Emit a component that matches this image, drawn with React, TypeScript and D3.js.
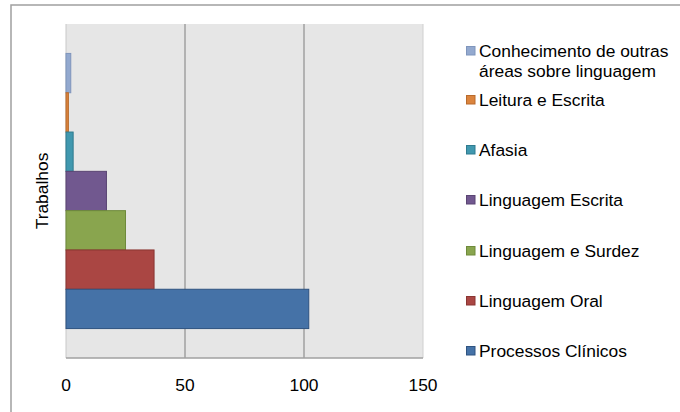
import React from "react";
import * as d3 from "d3";

const category = "Trabalhos";
const seriesNames = [
  "Conhecimento de outras áreas sobre linguagem",
  "Leitura e Escrita",
  "Afasia",
  "Linguagem Escrita",
  "Linguagem e Surdez",
  "Linguagem Oral",
  "Processos Clínicos",
];
const seriesValues = [2, 1, 3, 17, 25, 37, 102];
const seriesColors = ["#93A9CF", "#DB843D", "#4198AF", "#71588F", "#89A54E", "#AA4643", "#4572A7"];
const seriesStrokes = ["#7F95BC", "#B86A2C", "#2F7B8F", "#5A4573", "#6E8A3B", "#8A3532", "#2F5380"];
const legendLines = [
  ["Conhecimento de outras", "áreas sobre linguagem"],
  ["Leitura e Escrita"],
  ["Afasia"],
  ["Linguagem Escrita"],
  ["Linguagem e Surdez"],
  ["Linguagem Oral"],
  ["Processos Clínicos"],
];
const xTicks = [0, 50, 100, 150];

const W = 680;
const H = 412;
const plot = { left: 66, right: 423, top: 24, bottom: 358 };
const font = "'Liberation Sans', Arial, sans-serif";
const fs = 17.4;

export default function App() {
  const x = d3.scaleLinear().domain([0, 150]).range([plot.left, plot.right]);
  const yCat = d3
    .scaleBand<string>()
    .domain([category])
    .range([plot.top, plot.bottom])
    .paddingOuter(0.107)
    .paddingInner(0);
  const y0 = yCat(category) as number;
  const ySeries = d3
    .scaleBand<string>()
    .domain(seriesNames)
    .range([y0, y0 + yCat.bandwidth()]);

  const legendBaselines = [57, 106, 156, 206, 257, 307, 357];

  return (
    <svg
      width={W}
      height={H}
      style={{ position: "absolute", left: 0, top: 0, background: "#fff" }}
      fontFamily={font}
    >
      <rect x={11} y={5} width={700} height={430} fill="#fff" stroke="#A0A0A0" strokeWidth={1.5} />
      <rect
        x={plot.left}
        y={plot.top}
        width={plot.right - plot.left}
        height={plot.bottom - plot.top}
        fill="#E6E6E6"
      />
      <line x1={plot.right} x2={plot.right} y1={plot.top} y2={plot.bottom} stroke="#D0D0D0" strokeWidth={1} />
      {xTicks.slice(1, 3).map((t) => (
        <line key={t} x1={x(t)} x2={x(t)} y1={plot.top} y2={plot.bottom} stroke="#A0A0A0" strokeWidth={1.5} />
      ))}
      <line x1={plot.left} x2={plot.left} y1={plot.top} y2={plot.bottom} stroke="#C8C8C8" strokeWidth={1} />
      {seriesNames.map((s, i) => (
        <rect
          key={s}
          x={x(0)}
          y={ySeries(s) as number}
          width={x(seriesValues[i]) - x(0)}
          height={ySeries.bandwidth()}
          fill={seriesColors[i]}
          stroke={seriesStrokes[i]}
          strokeWidth={1}
        />
      ))}
      <line x1={plot.left} x2={plot.right} y1={plot.bottom} y2={plot.bottom} stroke="#A0A0A0" strokeWidth={1.5} />
      {xTicks.map((t) => (
        <text key={t} x={x(t)} y={391} textAnchor="middle" fontSize={fs} fill="#000">
          {t}
        </text>
      ))}
      <text
        transform={`translate(48, ${(plot.top + plot.bottom) / 2}) rotate(-90)`}
        textAnchor="middle"
        fontSize={fs}
        fill="#000"
      >
        {category}
      </text>
      {seriesNames.map((s, i) => (
        <g key={s}>
          <rect
            x={466.5}
            y={legendBaselines[i] - 10.5}
            width={8.5}
            height={8.5}
            fill={seriesColors[i]}
            stroke={seriesStrokes[i]}
            strokeWidth={1}
          />
          {legendLines[i].map((ln, j) => (
            <text key={j} x={479} y={legendBaselines[i] + j * 20} fontSize={fs} fill="#000">
              {ln}
            </text>
          ))}
        </g>
      ))}
    </svg>
  );
}
